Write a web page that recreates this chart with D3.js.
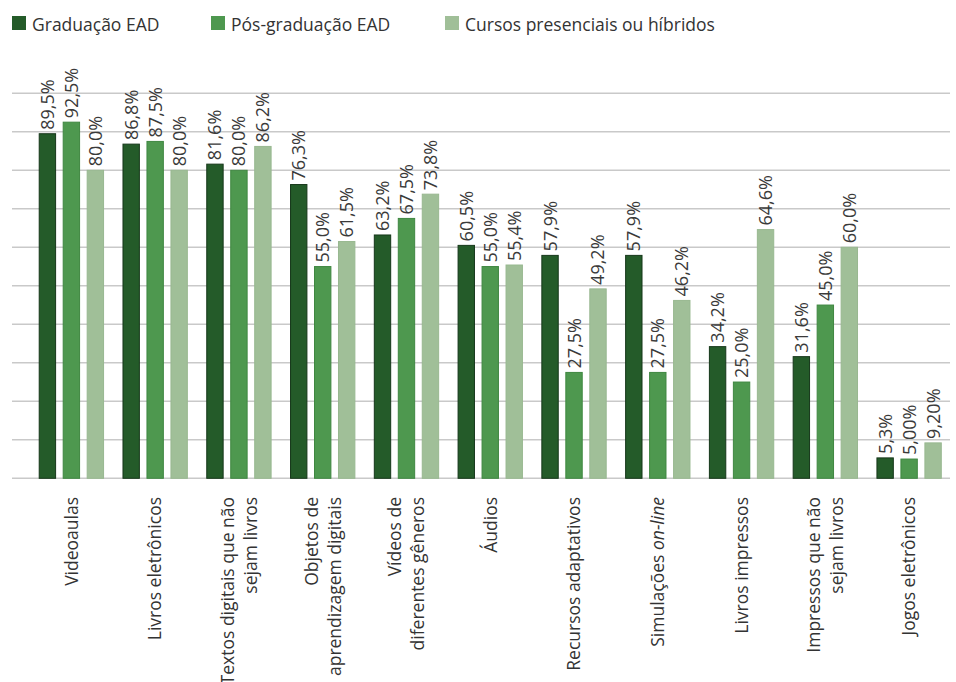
<!DOCTYPE html>
<html>
<head>
<meta charset="utf-8">
<script src="https://cdn.jsdelivr.net/npm/d3@7"></script>
<style>
  html, body { margin: 0; padding: 0; background: #ffffff; }
  svg { display: block; font-family: "Open Sans", "Noto Sans", sans-serif; }
</style>
</head>
<body>
<svg id="chart" width="956" height="682"></svg>
<script>
// Recursos utilizados por tipo de curso (%)
const categories = [
  ["Videoaulas"],
  ["Livros eletrônicos"],
  ["Textos digitais que não", "sejam livros"],
  ["Objetos de", "aprendizagem digitais"],
  ["Vídeos de", "diferentes gêneros"],
  ["Áudios"],
  ["Recursos adaptativos"],
  ["Simulações |on-line"],
  ["Livros impressos"],
  ["Impressos que não", "sejam livros"],
  ["Jogos eletrônicos"]
];
const seriesNames = ["Graduação EAD", "Pós-graduação EAD", "Cursos presenciais ou híbridos"];
const graduacaoEAD    = [89.5, 86.8, 81.6, 76.3, 63.2, 60.5, 57.9, 57.9, 34.2, 31.6, 5.3];
const posGraduacaoEAD = [92.5, 87.5, 80.0, 55.0, 67.5, 55.0, 27.5, 27.5, 25.0, 45.0, 5.0];
const presenciais     = [80.0, 80.0, 86.2, 61.5, 73.8, 55.4, 49.2, 46.2, 64.6, 60.0, 9.2];
// decimal places shown in each series' value labels, per category
const labelDecimals = [
  [1, 1, 1, 1, 1, 1, 1, 1, 1, 1, 1],
  [1, 1, 1, 1, 1, 1, 1, 1, 1, 1, 2],
  [1, 1, 1, 1, 1, 1, 1, 1, 1, 1, 2]
];
const yTicks = [0, 10, 20, 30, 40, 50, 60, 70, 80, 90, 100];
const colors = ["#245b29", "#4e984f", "#a0bf98"];
const strokes = ["#16371a", "#3f8741", "#98b890"];

const series = [graduacaoEAD, posGraduacaoEAD, presenciais];
const svg = d3.select("#chart");

const x0 = d3.scaleBand()
  .domain(d3.range(categories.length))
  .range([29.5, 951])
  .paddingInner(0.22)
  .paddingOuter(0.11);
const x1 = d3.scaleBand()
  .domain(d3.range(series.length))
  .range([0, x0.bandwidth()])
  .paddingInner(0.275);
const y = d3.scaleLinear().domain([0, 100]).range([478.3, 93.3]);

// horizontal gridlines
svg.append("g").selectAll("line").data(yTicks).join("line")
  .attr("x1", 12).attr("x2", 950)
  .attr("y1", d => y(d)).attr("y2", d => y(d))
  .attr("stroke", "#c9c9c9").attr("stroke-width", 1.5);

const fmt = (v, dec) => d3.format("." + dec + "f")(v).replace(".", ",") + "%";

// bars and value labels
const groups = svg.append("g").selectAll("g").data(categories).join("g")
  .attr("transform", (d, i) => `translate(${x0(i)},0)`);

groups.each(function (cat, ci) {
  const g = d3.select(this);
  series.forEach((s, si) => {
    const v = s[ci];
    g.append("rect")
      .attr("x", x1(si) + 0.5)
      .attr("y", y(v))
      .attr("width", x1.bandwidth() - 1)
      .attr("height", y(0) - y(v))
      .attr("fill", colors[si])
      .attr("stroke", strokes[si])
      .attr("stroke-width", 1);
    const cx = x1(si) + x1.bandwidth() / 2;
    g.append("text")
      .attr("transform", `translate(${cx},${y(v) - 4}) rotate(-90)`)
      .attr("dy", "0.36em")
      .attr("text-anchor", "start")
      .attr("font-size", 18)
      .attr("fill", "#3a3a3a")
      .text(fmt(v, labelDecimals[si][ci]));
  });
});

// category labels (rotated)
const lineH = 23;
categories.forEach((lines, ci) => {
  const cx = x0(ci) + x0.bandwidth() / 2;
  const t = svg.append("text")
    .attr("transform", `translate(${cx},497) rotate(-90)`)
    .attr("text-anchor", "end")
    .attr("font-size", 17.5)
    .attr("fill", "#333333");
  lines.forEach((line, li) => {
    const off = (li - (lines.length - 1) / 2) * lineH;
    const ts = t.append("tspan")
      .attr("x", 0)
      .attr("y", off)
      .attr("dy", "0.36em");
    const parts = line.split("|");
    ts.text(parts[0]);
    if (parts.length > 1) {
      ts.append("tspan").attr("font-style", "italic").text(parts[1]);
    }
  });
});

// legend
const legendX = [12, 211, 445];
const legend = svg.append("g").selectAll("g").data(seriesNames).join("g")
  .attr("transform", (d, i) => `translate(${legendX[i]},16)`);
legend.append("rect")
  .attr("width", 14).attr("height", 14)
  .attr("fill", (d, i) => colors[i]);
legend.append("text")
  .attr("x", 20).attr("y", 15)
  .attr("font-size", 17.5)
  .attr("fill", "#333333")
  .text(d => d);
</script>
</body>
</html>
